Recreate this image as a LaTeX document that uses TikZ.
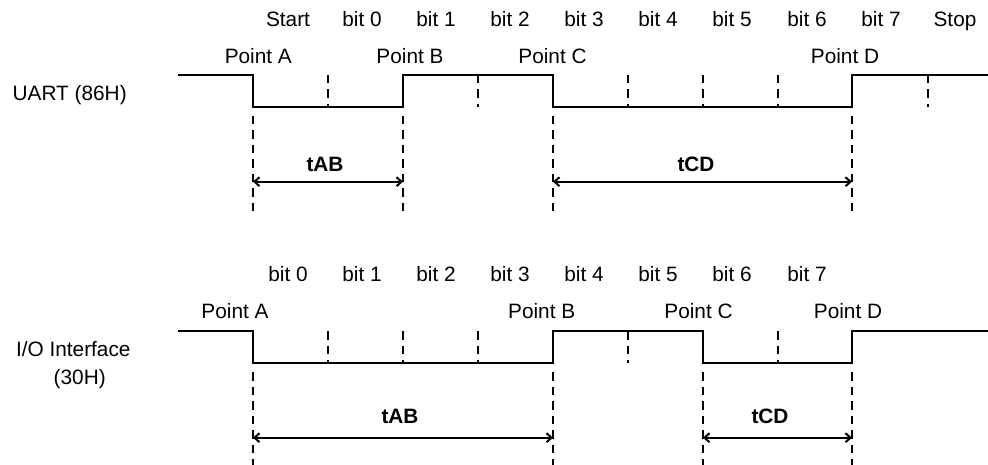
\documentclass[tikz,border=0pt]{standalone}
\usepackage{fontspec}
\setmainfont{Liberation Sans}
\usetikzlibrary{arrows.meta}
\begin{document}
\begin{tikzpicture}[x=1pt,y=-1pt,
  wave/.style={line width=2.1pt},
  tickmark/.style={line width=2pt, dash pattern=on 8.5pt off 6pt},
  guide/.style={line width=2pt, dash pattern=on 8.5pt off 6pt},
  dim/.style={line width=2pt, {Straight Barb[length=5pt,width=9pt]}-{Straight Barb[length=5pt,width=9pt]}},
  lbl/.style={font=\fontsize{20.8}{24}\selectfont, inner sep=0pt, anchor=base},
  blbl/.style={lbl, font=\fontsize{20.8}{24}\selectfont\bfseries},
]
\useasboundingbox (0,0) rectangle (988,465);

% ---------- UART (top) ----------
\coordinate (u0) at (178,75);
\coordinate (uA) at (253,75);
\coordinate (uAl) at (253,107);
\coordinate (uBl) at (403,107);
\coordinate (uB) at (403,75);
\coordinate (uC) at (553,75);
\coordinate (uCl) at (553,107);
\coordinate (uDl) at (852,107);
\coordinate (uD) at (852,75);
\coordinate (uE) at (988,75);
\draw[wave] (u0) -- (uA) -- (uAl) -- (uBl) -- (uB) -- (uC) -- (uCl) -- (uDl) -- (uD) -- (uE);

\foreach \x [count=\i] in {328,478,628,703,778,928}
  \draw[tickmark] (\x,75) coordinate (ut\i) -- (\x,107) coordinate (utb\i);

\foreach \x [count=\i] in {253,403,553,852}{
  \coordinate (ug\i) at (\x,116);
  \coordinate (ugb\i) at (\x,212);
  \draw[guide] (ug\i) -- (ugb\i);
}
\coordinate (uarA) at (253,181.7);
\coordinate (uarB) at (403,181.7);
\coordinate (uarC) at (553,181.7);
\coordinate (uarD) at (852,181.7);
\draw[dim] (uarA) -- (uarB);
\draw[dim] (uarC) -- (uarD);
\node[blbl] (utAB) at (325,171.5) {tAB};
\node[blbl] (utCD) at (696,171.5) {tCD};

\foreach \x/\t [count=\i] in {288/Start,362/bit 0,436/bit 1,510/bit 2,584/bit 3,658/bit 4,732/bit 5,807/bit 6,881/bit 7,955/Stop}
  \node[lbl] (ubit\i) at (\x,27) {\t};
\node[lbl] (upA) at (258.3,63.3) {Point A};
\node[lbl] (upB) at (410,63.3) {Point B};
\node[lbl] (upC) at (552.5,63.3) {Point C};
\node[lbl] (upD) at (845,63.3) {Point D};
\node[lbl] (uname) at (69.7,100.5) {UART (86H)};

% ---------- I/O Interface (bottom) ----------
\coordinate (i0) at (178,331);
\coordinate (iA) at (253,331);
\coordinate (iAl) at (253,363);
\coordinate (iBl) at (553,363);
\coordinate (iB) at (553,331);
\coordinate (iC) at (703,331);
\coordinate (iCl) at (703,363);
\coordinate (iDl) at (852,363);
\coordinate (iD) at (852,331);
\coordinate (iE) at (988,331);
\draw[wave] (i0) -- (iA) -- (iAl) -- (iBl) -- (iB) -- (iC) -- (iCl) -- (iDl) -- (iD) -- (iE);

\foreach \x [count=\i] in {328,403,478,628,778}
  \draw[tickmark] (\x,331) coordinate (it\i) -- (\x,363) coordinate (itb\i);

\foreach \x [count=\i] in {253,553,703,852}{
  \coordinate (ig\i) at (\x,372);
  \coordinate (igb\i) at (\x,465);
  \draw[guide] (ig\i) -- (igb\i);
}
\coordinate (iarA) at (253,437.7);
\coordinate (iarB) at (553,437.7);
\coordinate (iarC) at (703,437.7);
\coordinate (iarD) at (852,437.7);
\draw[dim] (iarA) -- (iarB);
\draw[dim] (iarC) -- (iarD);
\node[blbl] (itAB) at (400,423.3) {tAB};
\node[blbl] (itCD) at (770,423.3) {tCD};

\foreach \x/\t [count=\i] in {288/bit 0,362/bit 1,436/bit 2,510/bit 3,584/bit 4,658/bit 5,732/bit 6,807/bit 7}
  \node[lbl] (ibit\i) at (\x,281.7) {\t};
\node[lbl] (ipA) at (235,318.3) {Point A};
\node[lbl] (ipB) at (541.7,318.3) {Point B};
\node[lbl] (ipC) at (698.5,318.3) {Point C};
\node[lbl] (ipD) at (848,318.3) {Point D};
\node[lbl] (iname1) at (73.3,356) {I/O Interface};
\node[lbl] (iname2) at (79.7,384.5) {(30H)};
\end{tikzpicture}
\end{document}
